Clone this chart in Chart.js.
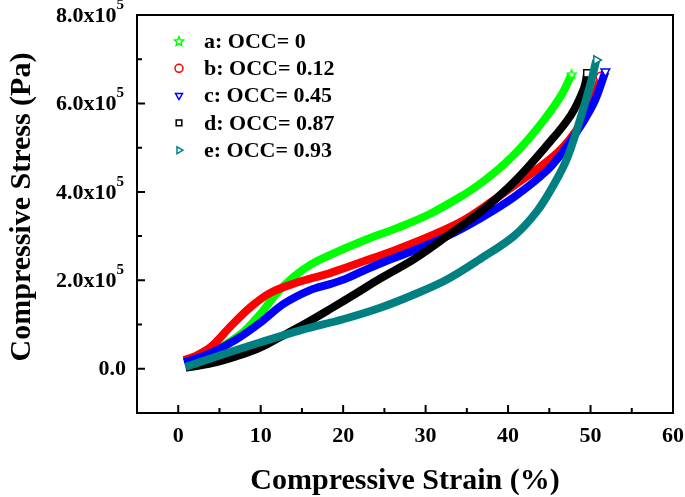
<!DOCTYPE html>
<html>
<head>
<meta charset="utf-8">
<script src="https://cdn.jsdelivr.net/npm/chart.js@4/dist/chart.umd.min.js"></script>
<style>
html, body { margin: 0; padding: 0; background: #fff; }
</style>
</head>
<body>
<canvas id="grafico" width="685" height="497"></canvas>
<script>
// Datos (deformacion en %, esfuerzo en Pa)
const strainA = [0.9, 2.5, 4, 6, 8, 10, 12, 14, 16, 18.5, 22.5, 26.5, 30.5, 34.5, 36.5, 38.5, 40.5, 42.5, 44.5, 46.5, 47.7];
const stressA = [18000, 25000, 38000, 58000, 85000, 125000, 172000, 208000, 235000, 258000, 290000, 318000, 350000, 392000, 417000, 446000, 480000, 520000, 566000, 620000, 666000];

const strainB = [0.7, 2, 4, 6.3, 8.8, 11.2, 14.4, 18.5, 22.5, 26.5, 30.5, 34.5, 38, 41, 44, 46.5, 48.5, 50, 51.3];
const stressB = [20000, 28000, 50000, 95000, 140000, 172000, 195000, 217000, 243000, 270000, 300000, 335000, 378000, 418000, 458000, 498000, 545000, 595000, 660000];

const strainC = [0.7, 2, 4, 7, 10, 12.8, 16, 18.5, 20.5, 22.5, 24.5, 28.6, 32.6, 36.6, 40.7, 44.7, 46.7, 49, 50.5, 51.8];
const stressC = [15000, 22000, 36000, 66000, 105000, 147000, 178000, 192000, 205000, 222000, 238000, 268000, 300000, 340000, 388000, 448000, 492000, 555000, 605000, 672000];

const strainD = [0.9, 3, 5, 7, 9.6, 12.4, 15.2, 18.5, 21.7, 24.5, 28.6, 32.6, 36.6, 40.7, 44.7, 47.6, 49.2, 49.6];
const stressD = [2000, 9000, 17000, 28000, 45000, 72000, 100000, 136000, 172000, 204000, 248000, 300000, 354000, 422000, 505000, 573000, 634000, 668000];

const strainE = [0.9, 5, 10, 15, 20, 24.5, 28.6, 32.6, 36.6, 40.7, 43.5, 45.5, 47.2, 48.8, 50, 50.7];
const stressE = [4000, 30000, 60000, 88000, 112000, 138000, 168000, 202000, 248000, 300000, 356000, 415000, 478000, 568000, 645000, 698000];

const etiquetas = ['a: OCC= 0', 'b: OCC= 0.12', 'c: OCC= 0.45', 'd: OCC= 0.87', 'e: OCC= 0.93'];

const xTicks = [0, 10, 20, 30, 40, 50, 60];
const xMinor = [5, 15, 25, 35, 45, 55];
const yTicks = [0, 200000, 400000, 600000, 800000];
const yTickMantisa = ['0.0', '2.0', '4.0', '6.0', '8.0'];
const yMinor = [100000, 300000, 500000, 700000];

const FUENTE = '"Liberation Serif", "Times New Roman", serif';

// Estrella de cinco puntas para la serie a
function estrella(color) {
    const c = document.createElement('canvas');
    c.width = 12; c.height = 12;
    const g = c.getContext('2d');
    g.beginPath();
    for (let i = 0; i < 10; i++) {
        const r = i % 2 ? 2.2 : 4.8;
        const ang = -Math.PI / 2 + i * Math.PI / 5;
        g.lineTo(6 + r * Math.cos(ang), 6.5 + r * Math.sin(ang));
    }
    g.closePath();
    g.fillStyle = '#fff';
    g.fill();
    g.strokeStyle = color;
    g.lineWidth = 1.5;
    g.stroke();
    return c;
}

function puntos(xs, ys) {
    return xs.map((x, i) => ({ x: x, y: ys[i] }));
}

// Solo el ultimo punto lleva marcador
function radios(xs, r) {
    return xs.map((_, i) => (i === xs.length - 1 ? r : 0));
}

function serie(label, xs, ys, color, estilo, rot, orden) {
    return {
        label: label,
        data: puntos(xs, ys),
        borderColor: color,
        backgroundColor: '#fff',
        borderWidth: 8,
        tension: 0.35,
        pointStyle: estilo,
        rotation: rot,
        pointRadius: radios(xs, 5),
        pointHoverRadius: 0,
        pointBorderWidth: 1.5,
        pointBorderColor: color,
        pointBackgroundColor: '#fff',
        order: orden
    };
}

const ejesPlugin = {
    id: 'ejes',
    beforeDatasetsDraw(chart) {
        const { ctx, chartArea: a, scales: { x, y } } = chart;
        ctx.save();
        ctx.strokeStyle = '#000';
        ctx.lineWidth = 2;
        ctx.strokeRect(a.left, a.top, a.right - a.left, a.bottom - a.top);
        ctx.beginPath();
        xTicks.forEach(v => {
            const px = x.getPixelForValue(v);
            ctx.moveTo(px, a.bottom); ctx.lineTo(px, a.bottom - 8);
        });
        xMinor.forEach(v => {
            const px = x.getPixelForValue(v);
            ctx.moveTo(px, a.bottom); ctx.lineTo(px, a.bottom - 5);
        });
        yTicks.forEach(v => {
            const py = y.getPixelForValue(v);
            ctx.moveTo(a.left, py); ctx.lineTo(a.left + 8, py);
        });
        yMinor.forEach(v => {
            const py = y.getPixelForValue(v);
            ctx.moveTo(a.left, py); ctx.lineTo(a.left + 5, py);
        });
        ctx.stroke();
        ctx.restore();
    },
    afterDraw(chart) {
        const { ctx, chartArea: a, scales: { x, y } } = chart;
        ctx.save();
        ctx.fillStyle = '#000';

        // Etiquetas del eje x
        ctx.font = 'bold 22px ' + FUENTE;
        ctx.textAlign = 'center';
        ctx.textBaseline = 'middle';
        xTicks.forEach(v => {
            ctx.fillText(String(v), x.getPixelForValue(v), a.bottom + 23);
        });

        // Etiquetas del eje y con exponente
        const derecha = a.left - 13;
        yTicks.forEach((v, i) => {
            const py = y.getPixelForValue(v);
            ctx.textAlign = 'right';
            if (v === 0) {
                ctx.font = 'bold 22px ' + FUENTE;
                ctx.fillText(yTickMantisa[i], derecha + 2, py + 1);
                return;
            }
            ctx.font = 'bold 15px ' + FUENTE;
            const wExp = ctx.measureText('5').width;
            ctx.fillText('5', derecha, py - 10);
            ctx.font = 'bold 22px ' + FUENTE;
            ctx.fillText(yTickMantisa[i] + 'x10', derecha - wExp, py + 1);
        });

        // Titulos de los ejes
        ctx.font = 'bold 30px ' + FUENTE;
        ctx.textAlign = 'center';
        ctx.fillText('Compressive Strain (%)', (a.left + a.right) / 2, a.bottom + 68);
        ctx.translate(22, (a.top + a.bottom) / 2 - 7);
        ctx.rotate(-Math.PI / 2);
        ctx.fillText('Compressive Stress (Pa)', 0, 0);
        ctx.restore();

        // Leyenda dentro del area
        ctx.save();
        ctx.font = 'bold 22px ' + FUENTE;
        ctx.textAlign = 'left';
        ctx.textBaseline = 'middle';
        chart.data.datasets.forEach((ds, i) => {
            const ly = a.top + 26 + i * 27.3;
            const lx = a.left + 42;
            ctx.strokeStyle = ds.borderColor;
            ctx.fillStyle = '#fff';
            ctx.lineWidth = 1.5;
            Chart.helpers.drawPoint(ctx, {
                pointStyle: ds.pointStyle,
                radius: 4,
                rotation: ds.rotation,
                borderWidth: 1.5
            }, lx, ly);
            ctx.fillStyle = '#000';
            ctx.fillText(ds.label, a.left + 67, ly + 1);
        });
        ctx.restore();
    }
};

const grafico = new Chart(document.getElementById('grafico').getContext('2d'), {
    type: 'line',
    data: {
        datasets: [
            serie(etiquetas[0], strainA, stressA, '#00ff00', estrella('#00ff00'), 0, 5),
            serie(etiquetas[1], strainB, stressB, '#ff0000', 'circle', 0, 4),
            serie(etiquetas[2], strainC, stressC, '#0000ff', 'triangle', 180, 3),
            serie(etiquetas[3], strainD, stressD, '#000000', 'rect', 0, 2),
            serie(etiquetas[4], strainE, stressE, '#008080', 'triangle', 90, 1)
        ]
    },
    options: {
        responsive: false,
        animation: false,
        devicePixelRatio: 1,
        layout: { padding: { left: 0, right: 12, top: 15, bottom: 0 } },
        plugins: {
            legend: { display: false },
            tooltip: { enabled: false }
        },
        scales: {
            x: {
                type: 'linear',
                min: -5,
                max: 60,
                grid: { display: false, drawTicks: false },
                border: { display: false },
                ticks: { display: false },
                afterFit(scale) { scale.height = 84; }
            },
            y: {
                type: 'linear',
                min: -100000,
                max: 800000,
                grid: { display: false, drawTicks: false },
                border: { display: false },
                ticks: { display: false },
                afterFit(scale) { scale.width = 137; }
            }
        }
    },
    plugins: [ejesPlugin]
});
</script>
</body>
</html>
